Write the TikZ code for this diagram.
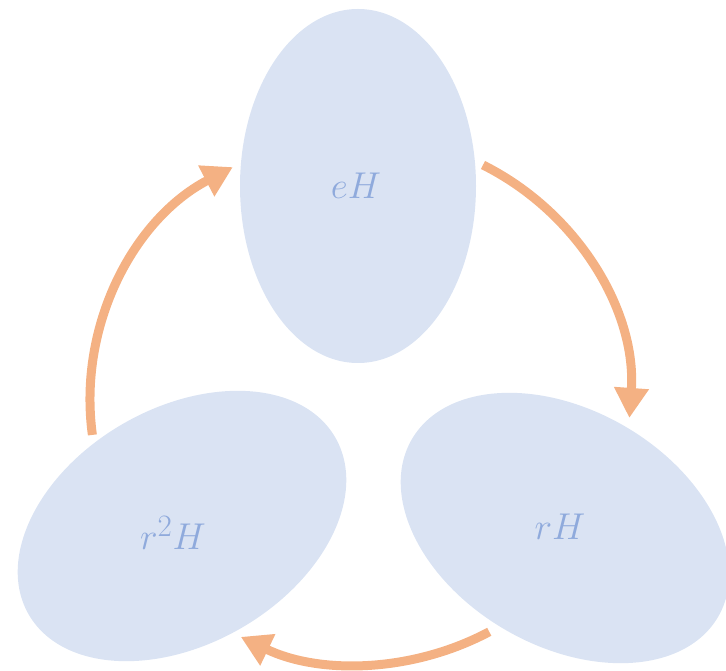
\documentclass[tikz,border=0pt]{standalone}
\usetikzlibrary{shapes.geometric,arrows.meta,calc}
\definecolor{cosetfill}{HTML}{DAE3F3}
\definecolor{cosettext}{HTML}{8FAADC}
\definecolor{cyclearrow}{HTML}{F4B183}
\tikzset{
  coset/.style={ellipse, fill=cosetfill, draw=none, inner sep=0pt, outer sep=0pt,
    minimum width=236pt, minimum height=354pt},
  cosetlabel/.style={text=cosettext, font=\Huge, scale=1.5, inner sep=0pt},
  cyclestep/.style={draw=cyclearrow, line width=9pt,
    -{Triangle[length=30pt,width=33pt]}}
}
\begin{document}
\begin{tikzpicture}[x=1pt,y=1pt]
  \useasboundingbox (0,0) rectangle (726,670);
  % the three cosets
  \node[coset] (eH) at (358,484) {};
  \node[coset, rotate=-60] (r2H) at (182,144) {};
  \node[coset, rotate=60] (rH) at (565,142) {};
  \node[cosetlabel] (eHl) at (356,484) {$eH$};
  \node[cosetlabel] (r2Hl) at (173,137) {$r^2H$};
  \node[cosetlabel] (rHl) at (560,143) {$rH$};
  % multiplication by r cycles the cosets, along one oval track
  \coordinate (hub) at (360,270);
  \coordinate (a1) at ($(hub)+({270*cos(62.9)},{264*sin(62.9)})$);
  \coordinate (a2) at ($(hub)+({270*cos(-61.4)},{264*sin(-61.4)})$);
  \coordinate (a3) at ($(hub)+({270*cos(187.6)},{264*sin(187.6)})$);
  \draw[cyclestep] (a1) arc[start angle=62.9, end angle=-3.9, x radius=270pt, y radius=264pt];
  \draw[cyclestep] (a2) arc[start angle=-61.4, end angle=-116.2, x radius=270pt, y radius=264pt];
  \draw[cyclestep] (a3) arc[start angle=187.6, end angle=118.1, x radius=270pt, y radius=264pt];
\end{tikzpicture}
\end{document}
